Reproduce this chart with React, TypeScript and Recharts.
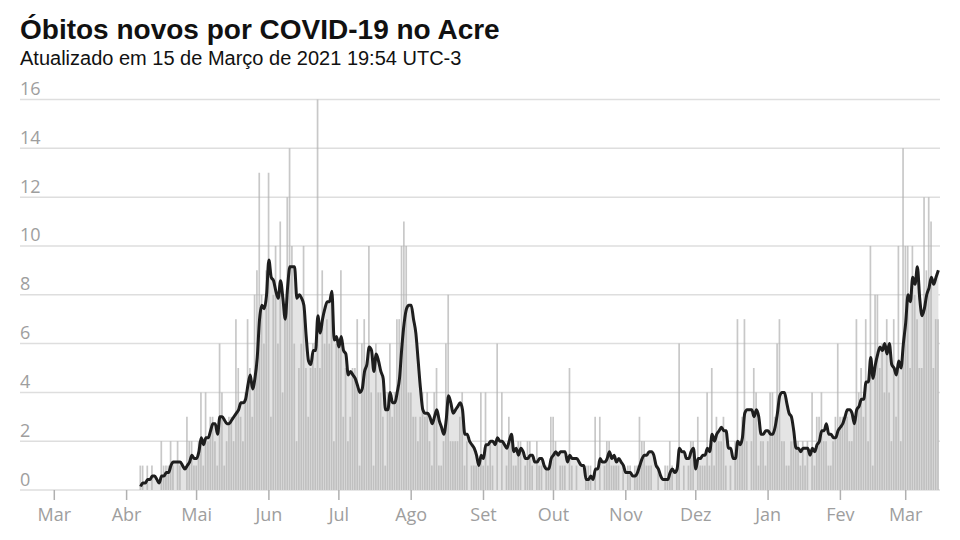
import { ComposedChart, Bar, Line, Area, XAxis, YAxis, CartesianGrid } from "recharts";

// óbitos diários no Acre, por mês (abril começa no dia 7)
const abr2020 = [1, 1, 0, 1, 0, 1, 0, 0, 0, 2, 1, 1, 1, 2, 1, 0, 2, 1, 0, 0, 3, 2, 2, 1];
const mai2020 = [1, 2, 4, 1, 4, 2, 3, 3, 2, 1, 6, 4, 1, 2, 3, 3, 2, 7, 5, 3, 2, 4, 7, 5, 3, 8, 9, 13, 8, 6, 9];
const jun2020 = [13, 3, 8, 10, 6, 11, 4, 7, 12, 14, 10, 6, 2, 5, 6, 10, 5, 3, 5, 6, 5, 16, 5, 9, 6, 7, 6, 8, 2, 6];
const jul2020 = [6, 9, 3, 5, 2, 3, 5, 5, 7, 1, 6, 7, 5, 10, 4, 1, 6, 4, 4, 3, 1, 4, 6, 3, 4, 7, 7, 10, 11, 10, 4];
const ago2020 = [4, 3, 3, 2, 3, 4, 3, 4, 2, 1, 4, 5, 1, 1, 2, 6, 8, 2, 2, 2, 2, 3, 4, 1, 2, 0, 1, 1, 1, 1, 4];
const set2020 = [1, 4, 1, 2, 1, 0, 6, 0, 4, 0, 1, 3, 2, 1, 1, 2, 2, 0, 1, 2, 2, 1, 0, 2, 1, 1, 0, 1, 1, 3];
const out2020 = [3, 2, 0, 1, 1, 1, 0, 5, 1, 0, 1, 0, 0, 0, 1, 1, 1, 0, 3, 0, 3, 0, 1, 2, 2, 1, 1, 1, 1, 0, 1];
const nov2020 = [0, 1, 1, 0, 1, 1, 3, 2, 2, 1, 1, 1, 0, 0, 1, 0, 0, 1, 1, 2, 1, 0, 1, 6, 0, 1, 0, 1, 2, 2];
const dez2020 = [0, 3, 1, 1, 1, 4, 1, 5, 1, 3, 2, 2, 3, 1, 0, 1, 0, 2, 7, 2, 3, 7, 2, 0, 2, 5, 4, 1, 2, 2, 1];
const jan2021 = [2, 4, 4, 3, 6, 7, 2, 2, 1, 1, 2, 2, 2, 2, 1, 2, 1, 2, 0, 4, 1, 3, 3, 4, 2, 2, 1, 1, 2, 3, 6];
const fev2021 = [3, 3, 3, 3, 2, 2, 3, 7, 4, 5, 3, 7, 2, 10, 1, 8, 8, 5, 6, 4, 7, 4, 2, 7, 3, 10, 2, 14];
const mar2021 = [10, 10, 5, 10, 8, 7, 5, 5, 12, 9, 12, 11, 5, 7, 7];

const monthLabels = ["Mar", "Abr", "Mai", "Jun", "Jul", "Ago", "Set", "Out", "Nov", "Dez", "Jan", "Fev", "Mar"];
const yTicks = [0, 2, 4, 6, 8, 10, 12, 14, 16];

const DAY = 86400000;
const origin = Date.UTC(2020, 2, 1);
const dayIndex = (y: number, m: number, d: number) => Math.round((Date.UTC(y, m, d) - origin) / DAY);

const monthTicks = monthLabels.map((_, i) => dayIndex(2020, 2 + i, 1));
const firstDay = dayIndex(2020, 3, 7);

const daily = [
  ...abr2020, ...mai2020, ...jun2020, ...jul2020, ...ago2020, ...set2020,
  ...out2020, ...nov2020, ...dez2020, ...jan2021, ...fev2021, ...mar2021,
];

// média móvel de 7 dias
const rows = daily.map((v, i) => {
  const win = daily.slice(Math.max(0, i - 6), i + 1);
  const ma = win.reduce((a, b) => a + b, 0) / 7;
  return { d: firstDay + i, obitos: v, media: ma };
});

const GREY_TEXT = "#9e9e9e";

function YTick({ y, payload }: any) {
  return (
    <text x={20} y={y - 4.5} fill={GREY_TEXT} fontSize={18} fontFamily="'Open Sans', sans-serif" textAnchor="start">
      {payload.value}
    </text>
  );
}

function XTick({ x, y, payload }: any) {
  const i = monthTicks.indexOf(payload.value);
  return (
    <text x={x} y={y + 21} fill={GREY_TEXT} fontSize={18} fontFamily="'Open Sans', sans-serif" textAnchor="middle">
      {monthLabels[i]}
    </text>
  );
}

export default function App() {
  return (
    <div style={{ position: "fixed", left: 0, top: 0, width: 960, height: 540, background: "#fff" }}>
      <div
        style={{
          position: "absolute", left: 20, top: 16, fontFamily: "'Liberation Sans', Arial, sans-serif",
          fontWeight: 700, fontSize: 28, lineHeight: "28px", color: "#111", whiteSpace: "nowrap",
        }}
      >
        Óbitos novos por COVID-19 no Acre
      </div>
      <div
        style={{
          position: "absolute", left: 20, top: 48, fontFamily: "'Liberation Sans', Arial, sans-serif",
          fontSize: 20, lineHeight: "20px", color: "#111", whiteSpace: "nowrap",
        }}
      >
        Atualizado em 15 de Março de 2021 19:54 UTC-3
      </div>
      <ComposedChart
        width={960}
        height={540}
        data={rows}
        margin={{ top: 99.5, right: 20, bottom: 0, left: 20 }}
        style={{ position: "absolute", left: 0, top: 0 }}
      >
        <CartesianGrid vertical={false} stroke="#dedede" strokeWidth={1.5} />
        <XAxis
          dataKey="d"
          type="number"
          domain={[-14.7, 379.7]}
          ticks={monthTicks}
          allowDataOverflow
          height={50}
          axisLine={false}
          tickSize={10}
          tickMargin={0}
          tickLine={{ stroke: "#b0b0b0", strokeWidth: 1.5 }}
          tick={<XTick />}
          interval={0}
        />
        <YAxis
          domain={[0, 16]}
          ticks={yTicks}
          width={40}
          mirror
          axisLine={false}
          tickLine={false}
          tick={<YTick />}
          interval={0}
        />
        <Area
          dataKey="media"
          type="monotone"
          fill="#e4e4e4"
          fillOpacity={1}
          stroke="none"
          isAnimationActive={false}
        />
        <Bar dataKey="obitos" barSize={1.7} fill="#b0b0b0" fillOpacity={0.7} isAnimationActive={false} />
        <Line
          dataKey="media"
          type="monotone"
          stroke="#1e1e1e"
          strokeWidth={3}
          dot={false}
          activeDot={false}
          isAnimationActive={false}
        />
      </ComposedChart>
    </div>
  );
}
